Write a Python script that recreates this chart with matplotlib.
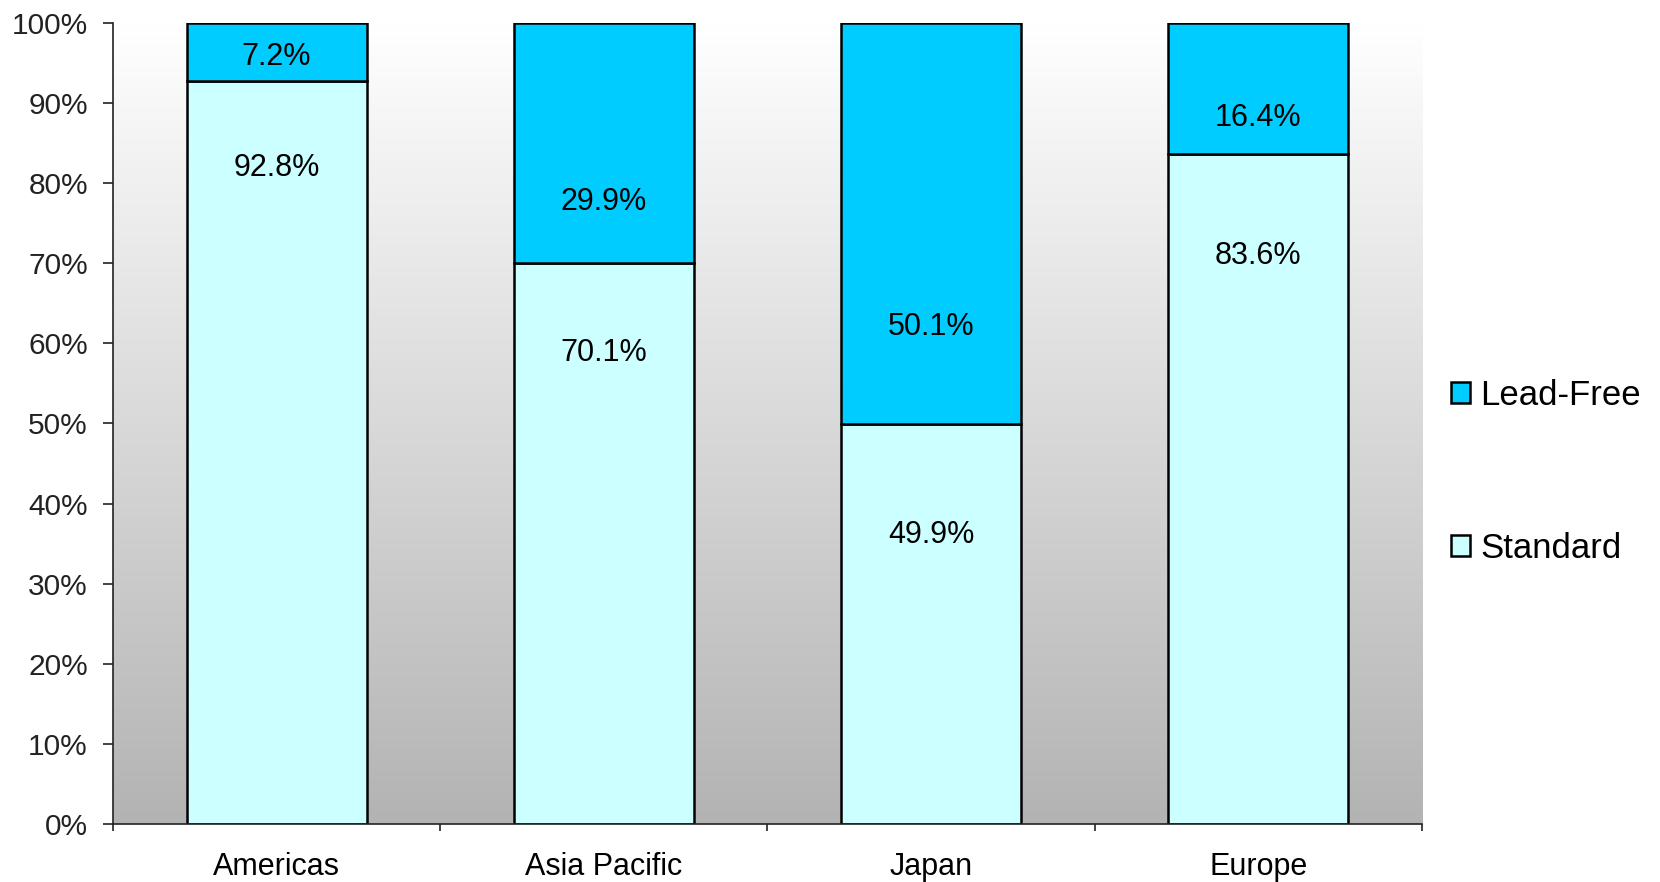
import matplotlib.pyplot as plt
import numpy as np
from matplotlib.patches import Patch

regions = ['Americas', 'Asia Pacific', 'Japan', 'Europe']
standard = [92.8, 70.1, 49.9, 83.6]
lead_free = [7.2, 29.9, 50.1, 16.4]

# label heights as they sit in the original picture (in %)
standard_label_y = [81.9, 58.8, 36.1, 70.9]
lead_free_label_y = [95.8, 77.7, 62.0, 88.2]

plt.rcParams['font.family'] = ['Liberation Sans', 'DejaVu Sans']

fig = plt.figure(figsize=(16.6, 8.82), dpi=100)
ax = fig.add_axes([0.068, 0.0658, 0.7886, 0.9081])

x = np.arange(len(regions))
w = 0.55

# gradient background, white at top -> grey at bottom
grad = np.linspace(0, 1, 256).reshape(-1, 1)
ax.imshow(grad, extent=[-0.5, len(regions) - 0.5, 0, 100], aspect='auto',
          cmap=plt.matplotlib.colors.LinearSegmentedColormap.from_list('g', ['#b3b3b3', '#ffffff']),
          origin='lower', zorder=0)

ax.bar(x, standard, w, color='#ccffff', edgecolor='black', linewidth=1.8, zorder=2, label='Standard')
ax.bar(x, lead_free, w, bottom=standard, color='#00ccff', edgecolor='black', linewidth=1.8,
       zorder=2, label='Lead-Free')

for i in range(len(regions)):
    ax.text(x[i], standard_label_y[i], f'{standard[i]}%', ha='center', va='center', fontsize=22, zorder=3)
    ax.text(x[i], lead_free_label_y[i], f'{lead_free[i]}%', ha='center', va='center', fontsize=22, zorder=3)

ax.set_xlim(-0.5, len(regions) - 0.5)
ax.set_ylim(0, 100)
ax.set_yticks(np.arange(0, 101, 10))
ax.set_yticklabels([f'{v}%' for v in range(0, 101, 10)], fontsize=21.5)
ax.tick_params(axis='y', length=7, width=1.2, pad=11, colors='#222222')

ax.set_xticks(x)
ax.set_xticklabels(regions, fontsize=22)
ax.tick_params(axis='x', which='major', length=0, pad=20)
ax.set_xticks(np.arange(-0.5, len(regions)), minor=True)
ax.tick_params(axis='x', which='minor', length=5, width=1.2, color='#222222')

for s in ['top', 'right']:
    ax.spines[s].set_visible(False)
for s in ['left', 'bottom']:
    ax.spines[s].set_linewidth(1.2)
    ax.spines[s].set_color('#222222')

handles = [Patch(facecolor='#00ccff', edgecolor='black', linewidth=1.8, label='Lead-Free'),
           Patch(facecolor='#ccffff', edgecolor='black', linewidth=1.8, label='Standard')]
fig.legend(handles=handles, loc='center left', bbox_to_anchor=(0.855, 0.465), frameon=False,
           fontsize=25, handlelength=0.55, handleheight=0.55, handletextpad=0.3, labelspacing=3.45)

plt.savefig('out.png', dpi=100)
